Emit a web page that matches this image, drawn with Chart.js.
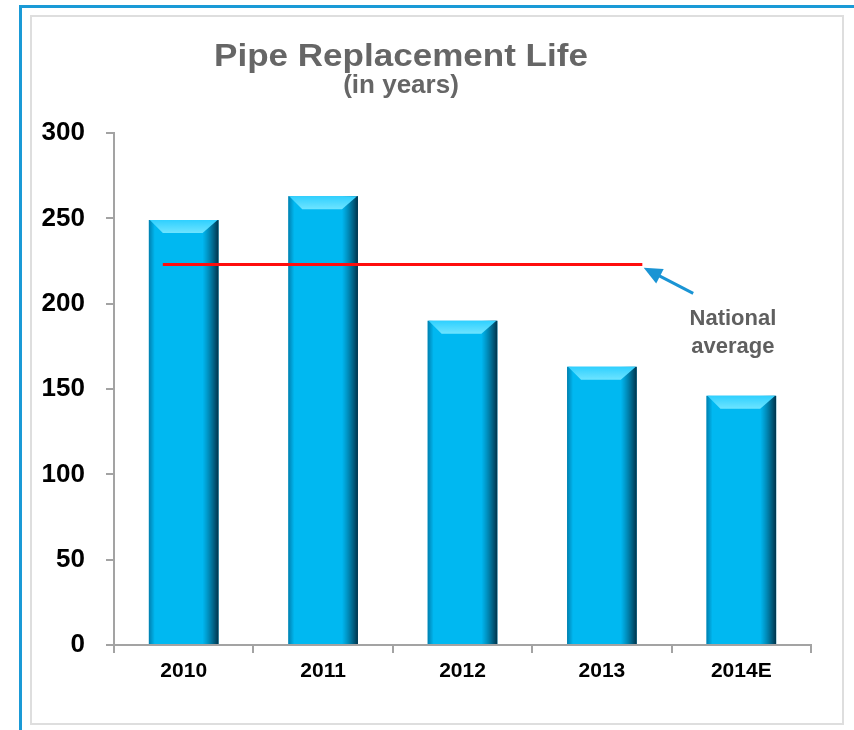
<!DOCTYPE html>
<html lang="en">
<head>
    <meta charset="UTF-8">
    <title>Pipe Replacement Life</title>
    <script src="https://cdn.jsdelivr.net/npm/chart.js"></script>
    <style>
        body {
            margin: 0;
            background: #fff;
            font-family: 'Liberation Sans', Arial, sans-serif;
        }
        .frame {
            position: absolute;
            left: 19px;
            top: 5px;
            width: 900px;
            height: 800px;
            border-top: 3px solid #1a9ad6;
            border-left: 3px solid #1a9ad6;
        }
        .box {
            position: absolute;
            left: 30px;
            top: 15px;
            width: 810px;
            height: 706px;
            border: 2px solid #dedede;
            background: #fff;
        }
        .title {
            position: absolute;
            left: 0;
            width: 802px;
            text-align: center;
            color: #666;
            font-weight: bold;
        }
        .t1 { top: 40px; font-size: 31px; line-height: 31px; transform: scaleX(1.13); }
        .t2 { top: 71px; font-size: 26px; line-height: 26px; }
        #wrap { position: absolute; left: 31px; top: 16px; }
    </style>
</head>
<body>
    <div class="frame"></div>
    <div class="box"></div>
    <div id="wrap"><canvas id="barChart" width="810" height="706"></canvas></div>
    <div class="title t1">Pipe Replacement Life</div>
    <div class="title t2">(in years)</div>

    <script>
        // data
        const years = ["2010", "2011", "2012", "2013", "2014E"];
        const lifeYears = [249, 263, 190, 163, 146];
        const nationalAvg = 223;
        const avgSpan = [-0.15, 3.29];   // in category units
        const yTicks = [0, 50, 100, 150, 200, 250, 300];

        const axisGray = '#a3a3a3';

        // bevel look for the bars, drawn over each bar element
        const bevelPlugin = {
            id: 'bevel',
            afterDatasetDraw(chart, args) {
                if (args.index !== 0) return;
                const ctx = chart.ctx;
                args.meta.data.forEach(bar => {
                    const p = bar.getProps(['x', 'y', 'base', 'width'], true);
                    const l = p.x - p.width / 2, r = p.x + p.width / 2;
                    const t = p.y, b = p.base;
                    ctx.save();
                    // right shade
                    let g = ctx.createLinearGradient(r - 16, 0, r, 0);
                    g.addColorStop(0, 'rgba(0,70,100,0)');
                    g.addColorStop(1, 'rgba(0,35,55,0.9)');
                    ctx.fillStyle = g;
                    ctx.fillRect(r - 16, t, 16, b - t);
                    // left shade
                    g = ctx.createLinearGradient(l, 0, l + 6, 0);
                    g.addColorStop(0, 'rgba(0,80,120,0.55)');
                    g.addColorStop(1, 'rgba(0,80,120,0)');
                    ctx.fillStyle = g;
                    ctx.fillRect(l, t, 6, b - t);
                    // top bevel
                    g = ctx.createLinearGradient(0, t, 0, t + 13);
                    g.addColorStop(0, '#2fd0ff');
                    g.addColorStop(1, '#6ee4ff');
                    ctx.fillStyle = g;
                    ctx.beginPath();
                    ctx.moveTo(l + 1, t);
                    ctx.lineTo(r - 1, t);
                    ctx.lineTo(r - 16, t + 13);
                    ctx.lineTo(l + 14, t + 13);
                    ctx.closePath();
                    ctx.fill();
                    ctx.restore();
                });
            }
        };

        // arrow and "National average" note
        const notePlugin = {
            id: 'note',
            afterDraw(chart) {
                const x2 = chart.scales.x2, y = chart.scales.y, ctx = chart.ctx;
                const tipX = x2.getPixelForValue(3.30), tipY = y.getPixelForValue(221);
                const tailX = x2.getPixelForValue(3.655), tailY = y.getPixelForValue(206);
                const ang = Math.atan2(tipY - tailY, tipX - tailX);
                ctx.save();
                ctx.strokeStyle = '#1a94d4';
                ctx.fillStyle = '#1a94d4';
                ctx.lineWidth = 3;
                const hl = 20;
                ctx.beginPath();
                ctx.moveTo(tailX, tailY);
                ctx.lineTo(tipX - Math.cos(ang) * hl * 0.8, tipY - Math.sin(ang) * hl * 0.8);
                ctx.stroke();
                ctx.beginPath();
                ctx.moveTo(tipX, tipY);
                ctx.lineTo(tipX - hl * Math.cos(ang - 0.42), tipY - hl * Math.sin(ang - 0.42));
                ctx.lineTo(tipX - hl * Math.cos(ang + 0.42), tipY - hl * Math.sin(ang + 0.42));
                ctx.closePath();
                ctx.fill();

                ctx.fillStyle = '#5f5f5f';
                ctx.font = 'bold 22px "Liberation Sans", Arial, sans-serif';
                ctx.textAlign = 'center';
                ctx.textBaseline = 'middle';
                const cx = x2.getPixelForValue(3.94);
                ctx.fillText('National', cx, y.getPixelForValue(191));
                ctx.fillText('average', cx, y.getPixelForValue(174.5));
                ctx.restore();
            }
        };

        const ctx = document.getElementById('barChart').getContext('2d');
        new Chart(ctx, {
            type: 'bar',
            data: {
                labels: years,
                datasets: [{
                    type: 'bar',
                    data: lifeYears,
                    backgroundColor: '#00b8f1',
                    barPercentage: 0.5,
                    categoryPercentage: 1,
                    grouped: false,
                    order: 1
                }, {
                    type: 'line',
                    xAxisID: 'x2',
                    data: avgSpan.map(v => ({ x: v, y: nationalAvg })),
                    borderColor: '#ff0d0d',
                    borderWidth: 3,
                    pointRadius: 0,
                    order: 0
                }]
            },
            options: {
                responsive: false,
                animation: false,
                devicePixelRatio: 1,
                layout: { padding: { top: 117, right: 30, left: 0, bottom: 0 } },
                plugins: {
                    legend: { display: false },
                    tooltip: { enabled: false }
                },
                scales: {
                    x: {
                        grid: {
                            drawOnChartArea: false,
                            tickLength: 8,
                            color: axisGray,
                            lineWidth: 2
                        },
                        border: { color: axisGray, width: 2 },
                        ticks: {
                            color: '#000',
                            padding: 6,
                            font: { family: '"Liberation Sans", Arial, sans-serif', size: 21, weight: 'bold' }
                        },
                        afterFit: s => { s.height = 77; }
                    },
                    x2: {
                        type: 'linear',
                        display: false,
                        offset: false,
                        min: -0.5,
                        max: 4.5
                    },
                    y: {
                        min: 0,
                        max: 300,
                        afterBuildTicks: s => { s.ticks = yTicks.map(v => ({ value: v })); },
                        grid: {
                            drawOnChartArea: false,
                            tickLength: 8,
                            color: axisGray,
                            lineWidth: 2
                        },
                        border: { color: axisGray, width: 2 },
                        ticks: {
                            color: '#000',
                            padding: 21,
                            font: { family: '"Liberation Sans", Arial, sans-serif', size: 26, weight: 'bold' }
                        },
                        afterFit: s => { s.width = 83; }
                    }
                }
            },
            plugins: [bevelPlugin, notePlugin]
        });
    </script>
</body>
</html>
